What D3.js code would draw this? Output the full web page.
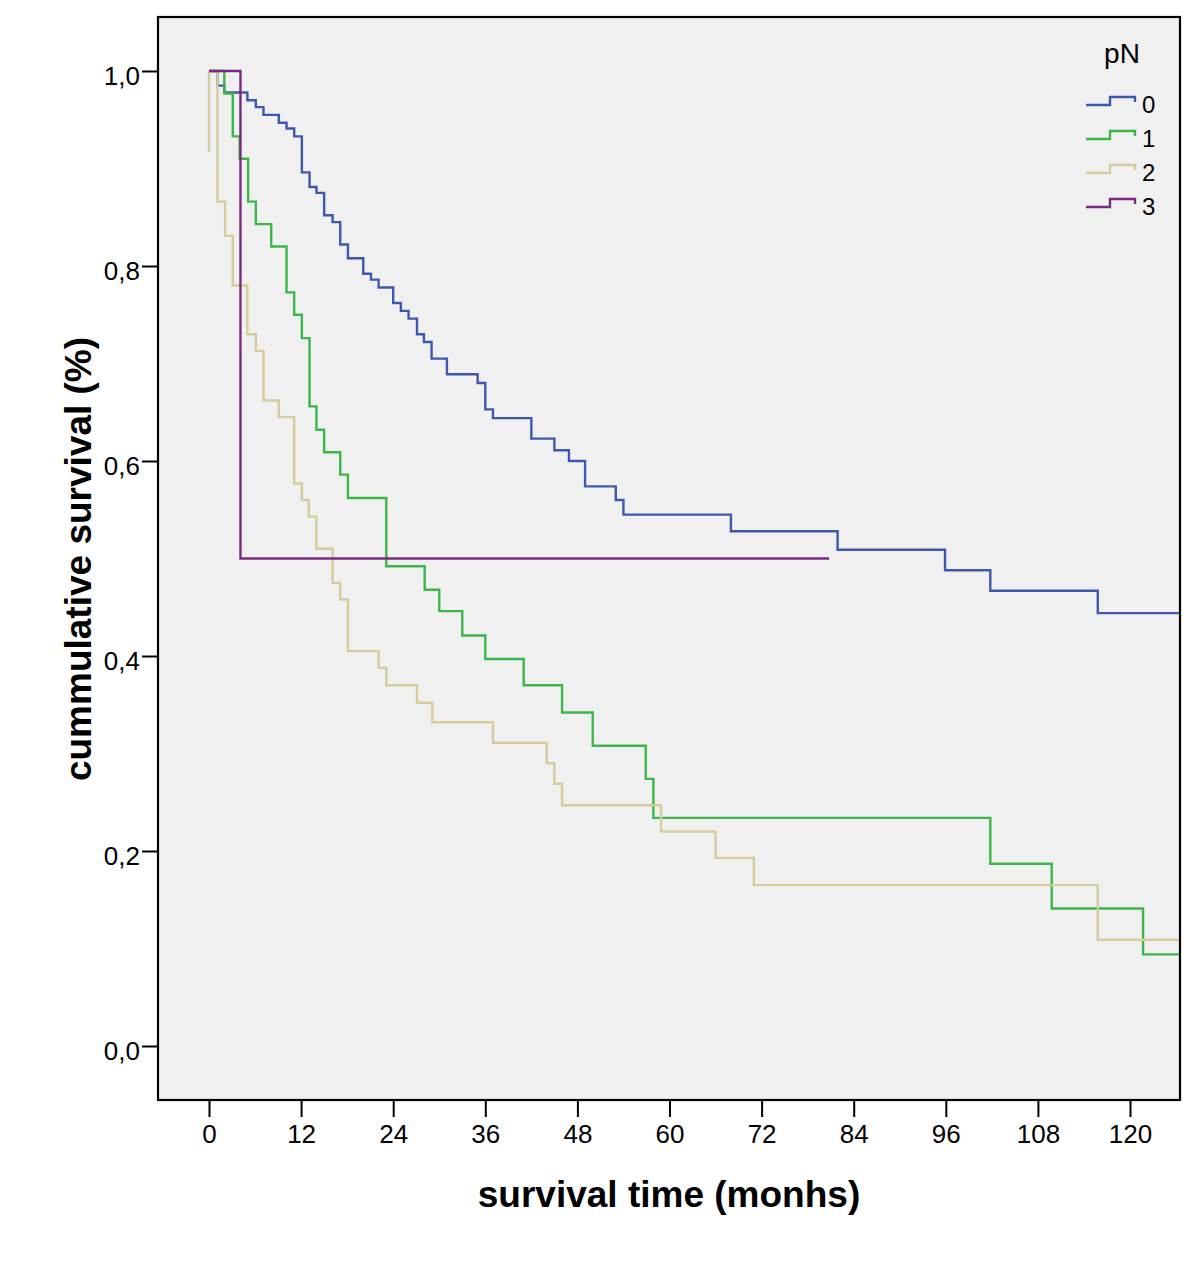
<!DOCTYPE html>
<html>
<head>
<meta charset="utf-8">
<script src="https://cdn.jsdelivr.net/npm/d3@7"></script>
<style>
  body { margin: 0; background: #fff; }
  svg { display: block; font-family: "Liberation Sans", Arial, sans-serif; }
</style>
</head>
<body>
<svg id="chart" width="1200" height="1261"></svg>
<script>
// Kaplan-Meier steps per pN group: [time (months), cumulative survival]
var pN0 = [[0,1],[1.1,0.985],[2.0,0.978],[5.0,0.970],[6.1,0.963],[7.1,0.955],[9.1,0.947],[10.1,0.941],
  [11.1,0.933],[12.1,0.896],[13.1,0.881],[14.0,0.875],[15.0,0.852],[16.1,0.845],[17.1,0.822],[18.1,0.808],
  [20.1,0.792],[21.1,0.786],[22.1,0.778],[24.0,0.762],[25.0,0.754],[26.0,0.746],[27.1,0.730],[28.0,0.722],
  [29.0,0.705],[31.0,0.689],[35.0,0.680],[36.0,0.653],[37.0,0.644],[42.0,0.623],[45.0,0.611],[46.9,0.600],
  [49.0,0.574],[53.0,0.560],[54.0,0.545],[68.0,0.528],[81.9,0.509],[95.9,0.488],[101.8,0.467],[115.8,0.444]];
var pN1 = [[0,1],[2.0,0.977],[3.1,0.933],[4.0,0.910],[5.1,0.866],[6.1,0.843],[8.1,0.820],[10.1,0.773],
  [11.1,0.750],[12.1,0.726],[13.1,0.656],[14.0,0.632],[15.0,0.609],[17.1,0.586],[18.1,0.562],[23.1,0.492],
  [28.1,0.468],[30.0,0.446],[33.0,0.421],[36.0,0.397],[41.0,0.370],[46.0,0.342],[50.0,0.308],[56.9,0.274],
  [57.9,0.234],[101.8,0.187],[109.8,0.141],[121.7,0.094]];
var pN2 = [[0,1],[1.1,0.866],[2.1,0.831],[3.1,0.780],[5.0,0.730],[6.1,0.713],[7.1,0.662],[9.1,0.645],
  [11.1,0.577],[12.1,0.560],[13.0,0.543],[14.0,0.510],[16.1,0.475],[17.1,0.458],[18.1,0.405],[22.1,0.388],
  [23.1,0.370],[27.1,0.352],[29.1,0.332],[37.0,0.311],[44.0,0.290],[45.0,0.269],[46.0,0.247],[58.9,0.220],
  [66.0,0.193],[71.0,0.165],[115.8,0.109]];
var pN2Spike = [[0,1],[0,0.917]]; // the odd drop drawn at time zero
var pN3 = [[0,1],[4.1,0.5]];

var lastTime = [130, 130, 130, 80.8]; // follow-up end per group
var groups = ["0", "1", "2", "3"];
var colors = ["#3e59ab", "#3cb64a", "#d4cd9b", "#7b2a82"];

var xTicks = [0, 12, 24, 36, 48, 60, 72, 84, 96, 108, 120];
var yTicks = [0, 0.2, 0.4, 0.6, 0.8, 1.0];

var svg = d3.select("#chart");
var frame = {left: 158, top: 17, right: 1180, bottom: 1100};

var x = d3.scaleLinear().domain([0, 120]).range([209, 1130]);
var y = d3.scaleLinear().domain([0, 1]).range([1046, 71]);

svg.append("defs").append("clipPath").attr("id", "plotclip")
  .append("rect")
  .attr("x", frame.left).attr("y", frame.top)
  .attr("width", frame.right - frame.left).attr("height", frame.bottom - frame.top);

svg.append("rect")
  .attr("x", frame.left).attr("y", frame.top)
  .attr("width", frame.right - frame.left).attr("height", frame.bottom - frame.top)
  .attr("fill", "#f0f0f0");

var line = d3.line()
  .x(function(d) { return x(d[0]); })
  .y(function(d) { return y(d[1]); })
  .curve(d3.curveStepAfter);

var curves = svg.append("g").attr("clip-path", "url(#plotclip)");
[pN0, pN1, pN2, pN3].forEach(function(steps, i) {
  var pts = steps.concat([[lastTime[i], steps[steps.length - 1][1]]]);
  if (i === 2) {
    curves.append("path")
      .attr("d", line.curve(d3.curveLinear)(pN2Spike))
      .attr("fill", "none")
      .attr("stroke", colors[2])
      .attr("stroke-width", 2.4);
    line.curve(d3.curveStepAfter);
  }
  curves.append("path")
    .attr("d", line(pts))
    .attr("fill", "none")
    .attr("stroke", colors[i])
    .attr("stroke-width", 2.4);
});

svg.append("rect")
  .attr("x", frame.left).attr("y", frame.top)
  .attr("width", frame.right - frame.left).attr("height", frame.bottom - frame.top)
  .attr("fill", "none").attr("stroke", "#000").attr("stroke-width", 2.2);

// axes
var yAxis = svg.append("g")
  .attr("transform", "translate(" + frame.left + ",0)")
  .call(d3.axisLeft(y).tickValues(yTicks).tickSize(16).tickPadding(2)
    .tickFormat(function(d) { return d3.format(".1f")(d).replace(".", ","); }));
yAxis.selectAll(".tick text").attr("dy", "0.51em");

var xAxis = svg.append("g")
  .attr("transform", "translate(0," + frame.bottom + ")")
  .call(d3.axisBottom(x).tickValues(xTicks).tickSize(17).tickPadding(8));

[xAxis, yAxis].forEach(function(a) {
  a.select(".domain").remove();
  a.selectAll(".tick line").attr("stroke", "#000").attr("stroke-width", 2);
  a.selectAll(".tick text").attr("font-family", "Liberation Sans, Arial, sans-serif")
    .attr("font-size", 26).attr("fill", "#000");
});

svg.append("text")
  .attr("x", 669).attr("y", 1207)
  .attr("text-anchor", "middle")
  .attr("font-size", 37).attr("font-weight", "bold")
  .text("survival time (monhs)");

svg.append("text")
  .attr("transform", "translate(91,559) rotate(-90)")
  .attr("text-anchor", "middle")
  .attr("font-size", 37).attr("font-weight", "bold")
  .text("cummulative survival (%)");

// legend
var legend = svg.append("g");
legend.append("text")
  .attr("x", 1122).attr("y", 63)
  .attr("text-anchor", "middle")
  .attr("font-size", 28)
  .text("pN");

groups.forEach(function(g, i) {
  var cy = 105 + i * 34;
  legend.append("path")
    .attr("d", "M1086," + cy + "H1110V" + (cy - 8) + "H1135V" + (cy - 3))
    .attr("fill", "none")
    .attr("stroke", colors[i])
    .attr("stroke-width", 2.4);
  legend.append("text")
    .attr("x", 1142).attr("y", cy + 8)
    .attr("font-size", 24)
    .text(g);
});
</script>
</body>
</html>
